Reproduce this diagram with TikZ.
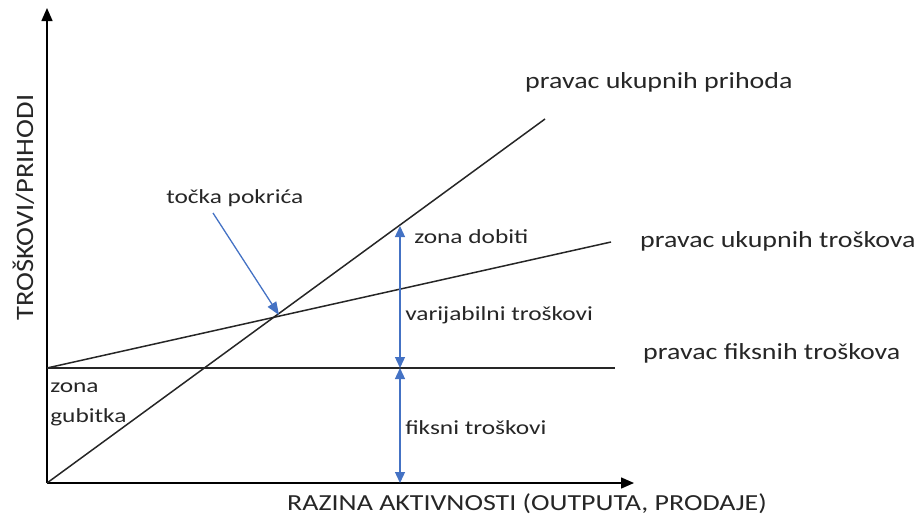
\documentclass[tikz,border=0pt]{standalone}
\usepackage{fontspec}
\setmainfont{Carlito}
\usetikzlibrary{arrows.meta}
\definecolor{txt}{HTML}{262626}
\definecolor{arblue}{HTML}{4472C4}
\begin{document}
\begin{tikzpicture}[x=1pt,y=-1pt,
  ln/.style={draw=black!85,line width=1.5pt},
  ax/.style={draw=black,line width=1.5pt,-{Triangle[length=13pt,width=11pt]}},
  blarr/.style={draw=arblue,line width=1.3pt,{Triangle[length=11pt,width=10pt]}-{Triangle[length=11pt,width=10pt]}},
  big/.style={font=\fontsize{23}{26}\selectfont,text=txt,inner sep=0pt,xscale=1.215},
  mid/.style={font=\fontsize{20}{24}\selectfont,text=txt,inner sep=0pt,xscale=1.27}]
\useasboundingbox (0,0) rectangle (922,520);
\coordinate (O) at (47,483);
\coordinate (ytop) at (47,8);
\coordinate (xend) at (634,483);
\coordinate (fixL) at (47,368);
\coordinate (fixR) at (615,368);
\coordinate (tcR) at (611,242);
\coordinate (revR) at (545,119);
\coordinate (be) at (279,315);
\coordinate (aBot) at (400,483);
\coordinate (aMid) at (400,368);
\coordinate (aTop) at (400,226);
\draw[ax] (O) -- (ytop);
\draw[ax] (O) -- (xend);
\draw[ln] (fixL) -- (fixR);
\draw[ln] (fixL) -- (tcR);
\draw[ln] (O) -- (revR);
\draw[blarr] (aBot) -- (aMid);
\draw[blarr] (aMid) -- (aTop);
\node[mid,anchor=base west] (tp) at (166,203) {točka pokrića};
\coordinate (tpS) at (213,213);
\draw[draw=arblue,line width=1.3pt,-{Triangle[length=13pt,width=10pt]}] (tpS) -- (be);
\node[big,anchor=base west] (rev) at (525,88) {pravac ukupnih prihoda};
\node[big,anchor=base west] (tc) at (640,247) {pravac ukupnih troškova};
\node[big,anchor=base west] (fc) at (643,359) {pravac fiksnih troškova};
\node[mid,anchor=base west] (zd) at (414,243) {zona dobiti};
\node[mid,anchor=base west] (vt) at (405,320) {varijabilni troškovi};
\node[mid,anchor=base west] (ft) at (405,434) {fiksni troškovi};
\node[mid,anchor=base west] (z1) at (50,392) {zona};
\node[mid,anchor=base west] (z2) at (50,422) {gubitka};
\node[big,anchor=base west] (xl) at (287,510) {RAZINA AKTIVNOSTI (OUTPUTA, PRODAJE)};
\node[font=\fontsize{25}{28}\selectfont,text=txt,inner sep=0pt,anchor=base west,rotate=90,xscale=1.14] (yl) at (33,321) {TROŠKOVI/PRIHODI};
\end{tikzpicture}
\end{document}
